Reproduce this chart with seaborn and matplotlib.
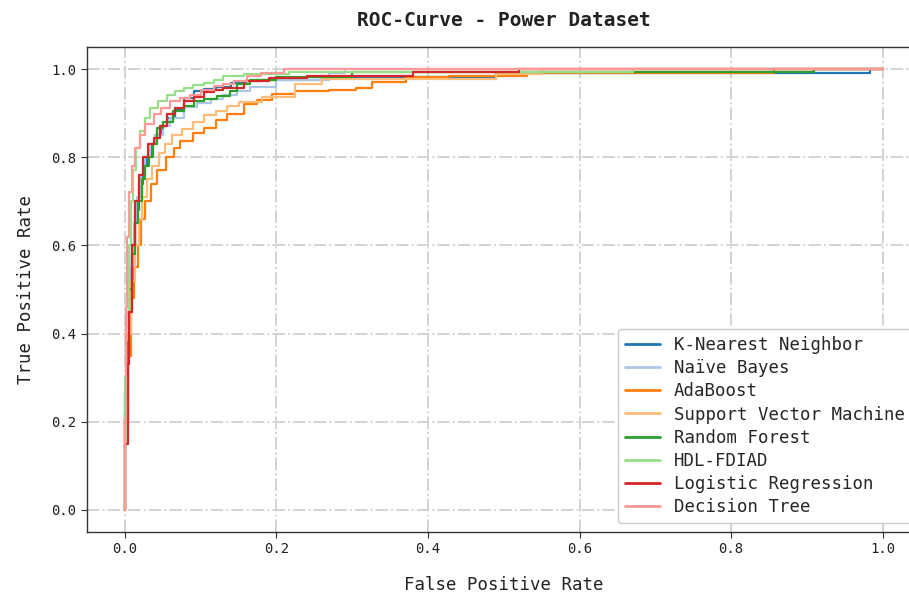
import matplotlib
matplotlib.use("Agg")
import matplotlib.pyplot as plt
import seaborn as sns
import pandas as pd

models = ["K-Nearest Neighbor", "Naïve Bayes", "AdaBoost", "Support Vector Machine",
          "Random Forest", "HDL-FDIAD", "Logistic Regression", "Decision Tree"]

knn_fpr = [0, 0, 0.003, 0.006, 0.010, 0.014, 0.018, 0.024, 0.029, 0.034, 0.040, 0.048, 0.056, 0.066,
           0.078, 0.091, 0.105, 0.120, 0.140, 0.160, 0.180, 0.26, 0.49, 0.983, 1.0]
knn_tpr = [0, 0.27, 0.36, 0.48, 0.60, 0.68, 0.74, 0.78, 0.80, 0.83, 0.85, 0.87, 0.89, 0.91,
           0.935, 0.950, 0.955, 0.960, 0.968, 0.973, 0.975, 0.982, 0.99, 1.0, 1.0]

nb_fpr = [0, 0, 0.004, 0.008, 0.012, 0.016, 0.021, 0.027, 0.033, 0.040, 0.050, 0.060, 0.078, 0.095,
          0.113, 0.130, 0.148, 0.165, 0.20, 0.27, 0.29, 1.0]
nb_tpr = [0, 0.25, 0.40, 0.55, 0.65, 0.71, 0.76, 0.80, 0.83, 0.85, 0.87, 0.89, 0.913, 0.922,
          0.932, 0.940, 0.950, 0.960, 0.975, 0.99, 1.0, 1.0]

ada_fpr = [0, 0, 0.004, 0.008, 0.012, 0.017, 0.021, 0.027, 0.034, 0.042, 0.054, 0.065, 0.073, 0.090,
           0.104, 0.120, 0.135, 0.157, 0.175, 0.194, 0.225, 0.27, 0.305, 0.326, 0.371, 0.428, 0.53,
           0.857, 1.0]
ada_tpr = [0, 0.20, 0.35, 0.48, 0.55, 0.60, 0.66, 0.70, 0.74, 0.77, 0.80, 0.82, 0.836, 0.855,
           0.867, 0.885, 0.897, 0.920, 0.930, 0.943, 0.951, 0.953, 0.958, 0.970, 0.981, 0.985, 0.99,
           1.0, 1.0]

svm_fpr = [0, 0, 0.004, 0.008, 0.013, 0.018, 0.023, 0.029, 0.036, 0.045, 0.053, 0.062, 0.075, 0.090,
           0.105, 0.120, 0.135, 0.150, 0.181, 0.225, 0.26, 0.49, 0.55, 1.0]
svm_tpr = [0, 0.22, 0.40, 0.52, 0.60, 0.66, 0.71, 0.75, 0.78, 0.81, 0.83, 0.85, 0.865, 0.88,
           0.895, 0.905, 0.915, 0.925, 0.936, 0.966, 0.977, 0.988, 1.0, 1.0]

rf_fpr = [0, 0, 0.003, 0.006, 0.009, 0.013, 0.017, 0.022, 0.027, 0.032, 0.037, 0.042, 0.050, 0.064,
          0.078, 0.091, 0.105, 0.122, 0.139, 0.148, 0.165, 0.20, 0.30, 0.91, 1.0]
rf_tpr = [0, 0.22, 0.38, 0.50, 0.58, 0.65, 0.70, 0.75, 0.78, 0.80, 0.83, 0.867, 0.88, 0.905,
          0.915, 0.927, 0.933, 0.939, 0.950, 0.965, 0.975, 0.982, 0.993, 1.0, 1.0]

hdl_fpr = [0, 0, 0.002, 0.005, 0.008, 0.011, 0.015, 0.020, 0.027, 0.033, 0.044, 0.055, 0.066, 0.078,
           0.090, 0.104, 0.117, 0.130, 0.157, 0.217, 0.67, 1.0]
hdl_tpr = [0, 0.30, 0.45, 0.60, 0.70, 0.77, 0.82, 0.859, 0.89, 0.912, 0.928, 0.942, 0.95, 0.958,
           0.963, 0.969, 0.976, 0.984, 0.989, 0.994, 1.0, 1.0]

lr_fpr = [0, 0, 0.004, 0.006, 0.010, 0.014, 0.019, 0.024, 0.030, 0.038, 0.046, 0.055, 0.066, 0.078,
          0.091, 0.104, 0.117, 0.130, 0.157, 0.19, 0.24, 0.38, 0.52, 1.0]
lr_tpr = [0, 0.15, 0.33, 0.45, 0.60, 0.70, 0.76, 0.80, 0.83, 0.844, 0.87, 0.897, 0.912, 0.927,
          0.937, 0.947, 0.953, 0.958, 0.972, 0.98, 0.985, 0.993, 1.0, 1.0]

dt_fpr = [0, 0, 0.001, 0.003, 0.006, 0.010, 0.014, 0.020, 0.027, 0.038, 0.048, 0.060, 0.073, 0.086,
          0.100, 0.117, 0.130, 0.144, 0.161, 0.18, 0.21, 1.0]
dt_tpr = [0, 0.20, 0.46, 0.62, 0.72, 0.78, 0.82, 0.85, 0.875, 0.897, 0.912, 0.927, 0.935, 0.942,
          0.952, 0.961, 0.967, 0.973, 0.984, 0.99, 1.0, 1.0]

fprs = [knn_fpr, nb_fpr, ada_fpr, svm_fpr, rf_fpr, hdl_fpr, lr_fpr, dt_fpr]
tprs = [knn_tpr, nb_tpr, ada_tpr, svm_tpr, rf_tpr, hdl_tpr, lr_tpr, dt_tpr]

colors = ["#1f77b4", "#aec7e8", "#ff7f0e", "#ffbb78", "#2ca02c", "#98df8a", "#d62728", "#ff9896"]

sns.set_style("white")
plt.rcParams['font.family'] = ['DejaVu Sans Mono', 'DejaVu Sans']

fig = plt.figure(figsize=(9.09, 5.96), dpi=100)
ax = fig.add_axes([0.0957, 0.1074, 0.917, 0.8138])

for name, fx, ty, c in zip(models, fprs, tprs, colors):
    df = pd.DataFrame({"fpr": fx, "tpr": ty})
    sns.lineplot(data=df, x="fpr", y="tpr", ax=ax, estimator=None, sort=False,
                 drawstyle="steps-post", color=c, linewidth=1.6, label=name)

ax.set_xlim(-0.05, 1.05)
ax.set_ylim(-0.05, 1.05)
ax.set_xticks([0, 0.2, 0.4, 0.6, 0.8, 1.0])
ax.set_yticks([0, 0.2, 0.4, 0.6, 0.8, 1.0])
ax.grid(True, linestyle="-.", color="#d3d3d3", linewidth=1.4)
ax.set_axisbelow(True)
for s in ax.spines.values():
    s.set_color("#333333")
    s.set_linewidth(1.0)
ax.spines["right"].set_visible(False)
ax.tick_params(axis="both", labelsize=10, length=4, color="#333333", labelcolor="#222222",
               left=True, bottom=True)
ax.set_xlabel("False Positive Rate", fontsize=12.5, labelpad=14, color="#222222")
ax.set_ylabel("True Positive Rate", fontsize=12.5, labelpad=12, color="#222222")
ax.set_title("ROC-Curve - Power Dataset", fontsize=14, fontweight="bold", pad=15, color="#222222")

leg = ax.legend(loc="lower right", fontsize=12.5, labelspacing=0.3, frameon=True,
                fancybox=True, framealpha=1.0, edgecolor="#cccccc")
for line in leg.get_lines():
    line.set_linewidth(2.0)

fig.savefig("out.png", dpi=100)
